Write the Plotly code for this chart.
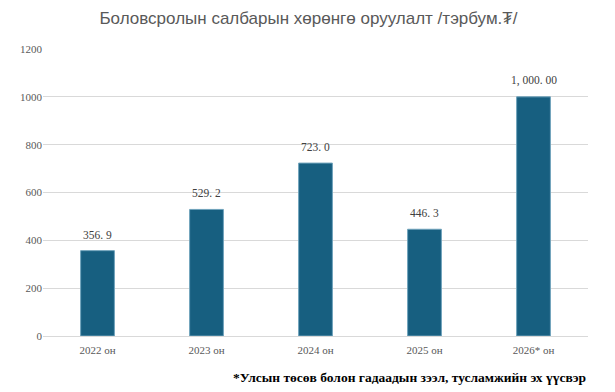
import plotly.graph_objects as go

categories = ["2022 он", "2023 он", "2024 он", "2025 он", "2026* он"]
values = [356.9, 529.2, 723.0, 446.3, 1000.00]
value_labels = ["356. 9", "529. 2", "723. 0", "446. 3", "1, 000. 00"]
tick_vals = [0, 200, 400, 600, 800, 1000, 1200]

fig = go.Figure()
fig.add_trace(go.Bar(
    x=categories, y=values,
    marker=dict(color="#175F80", line=dict(color="#6FA3BB", width=1)),
    width=0.31,
))

label_annotations = [
    dict(x=c, y=v, text=t, xref="x", yref="y", showarrow=False,
         yanchor="bottom", yshift=8,
         font=dict(family="Liberation Serif", size=11.5, color="#404040"))
    for c, v, t in zip(categories, values, value_labels)
]

fig.update_layout(
    width=607, height=384,
    margin=dict(l=32, r=27, t=41, b=56),
    plot_bgcolor="white", paper_bgcolor="white",
    showlegend=False,
    title=dict(text="Боловсролын салбарын хөрөнгө оруулалт /тэрбум.₮/",
               x=0.495, xanchor="center", y=0.974, yanchor="middle",
               font=dict(family="Liberation Sans", size=17, color="#595959")),
    xaxis=dict(showgrid=False, showline=True, linecolor="#d9d9d9", linewidth=1,
               ticks="", ticklabelstandoff=4,
               tickfont=dict(family="Liberation Serif", size=11, color="#595959")),
    yaxis=dict(range=[0, 1200], tickvals=tick_vals, showgrid=True, gridcolor="#d9d9d9",
               gridwidth=1, zeroline=False, ticks="", ticklen=0,
               tickfont=dict(family="Liberation Serif", size=11, color="#595959")),
    annotations=label_annotations + [
        dict(text="<b>*Улсын төсөв болон гадаадын зээл, тусламжийн эх үүсвэр</b>",
             xref="paper", yref="paper", x=1.0, y=-0.146, xanchor="right", yanchor="middle",
             showarrow=False,
             font=dict(family="Liberation Serif", size=13.5, color="#000000"))],
)

fig.write_html("out.html")
